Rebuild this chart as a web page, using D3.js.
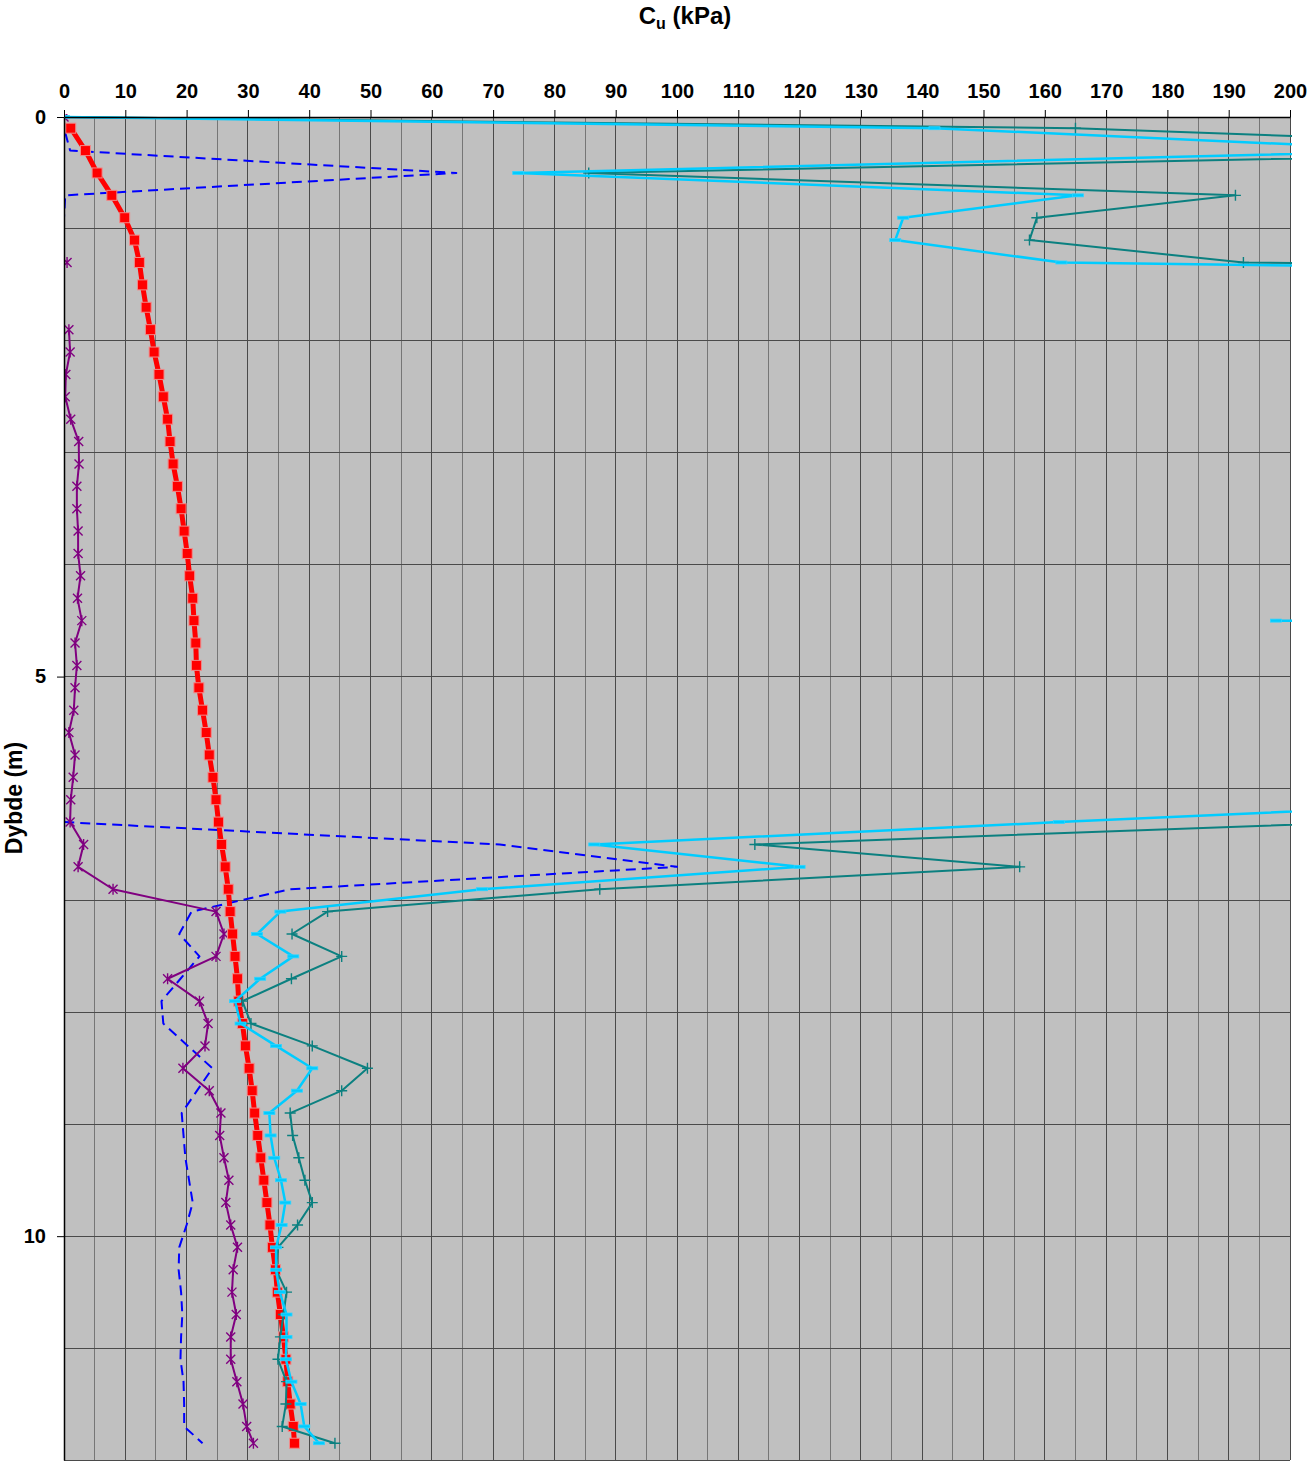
<!DOCTYPE html>
<html>
<head>
<meta charset="utf-8">
<script src="https://cdn.jsdelivr.net/npm/d3@7"></script>
<style>
  html, body { margin: 0; padding: 0; background: #ffffff; }
  svg { display: block; font-family: "Liberation Sans", Arial, sans-serif; }
</style>
</head>
<body>
<div id="chart"></div>
<script>
// ---------------- DATA ----------------
const depth = [0, 0.1, 0.3, 0.5, 0.7, 0.9, 1.1, 1.3, 1.5, 1.7, 1.9, 2.1, 2.3, 2.5, 2.7, 2.9,
  3.1, 3.3, 3.5, 3.7, 3.9, 4.1, 4.3, 4.5, 4.7, 4.9, 5.1, 5.3, 5.5, 5.7, 5.9,
  6.1, 6.3, 6.5, 6.7, 6.9, 7.1, 7.3, 7.5, 7.7, 7.9, 8.1, 8.3, 8.5, 8.7, 8.9,
  9.1, 9.3, 9.5, 9.7, 9.9, 10.1, 10.3, 10.5, 10.7, 10.9, 11.1, 11.3, 11.5, 11.7, 11.85];

const redCu = [null, 1.1, 3.5, 5.4, 7.8, 9.9, 11.5, 12.3, 12.8, 13.4, 14.1, 14.7, 15.5, 16.2, 16.9, 17.3,
  17.8, 18.5, 19.1, 19.6, 20.1, 20.5, 21.0, 21.2, 21.5, 21.6, 22.0, 22.6, 23.2, 23.7, 24.3,
  24.8, 25.2, 25.7, 26.3, 26.8, 27.1, 27.5, 27.9, 28.3, 28.5, 29.1, 29.6, 30.2, 30.7, 31.1,
  31.6, 32.1, 32.6, 33.1, 33.6, 34.0, 34.5, 34.8, 35.3, 35.8, 36.2, 36.5, 36.9, 37.4, 37.6];

const purpleCu = [0, null, null, null, null, null, null, 0.5, null, null, 0.8, 1.0, 0.3, 0.2, 1.1, 2.4,
  2.45, 2.1, 2.1, 2.3, 2.3, 2.7, 2.2, 2.9, 1.8, 2.1, 1.8, 1.6, 0.8, 1.8, 1.5,
  1.1, 1.0, 3.2, 2.3, 8.0, 24.8, 26.1, 24.8, 16.9, 22.1, 23.5, 23.0, 19.4, 23.7, 25.6,
  25.4, 26.1, 26.9, 26.4, 27.2, 28.3, 27.6, 27.4, 28.1, 27.2, 27.2, 28.2, 29.2, 29.8, 30.9];

const blueCu = [0, 0, 1.0, 64.0, 0.2, 0, 0, 0, 0, 0, 0, 0, 0, 0, 0, 0,
  0, 0, 0, 0, 0, 0, 0, 0, 0, 0, 0, 0, 0, 0, 0,
  0, 0, 71.1, 100.0, 36.9, 20.8, 18.8, 22.1, 19.0, 15.9, 16.2, 20.2, 24.2, 21.7, 19.2,
  19.5, 19.8, 20.4, 21.0, 20.0, 18.8, 18.7, 19.1, 19.3, 19.1, 19.0, 19.5, 19.6, 19.6, 22.6];

const tealCu = [0, 165, 265, 85.6, 191.1, 158.7, 157.5, 192.4, 600, null, null, null, null, null, null, null,
  null, null, null, null, null, null, null, null, null, null, null, null, null, null, null,
  null, 212, 112.7, 155.9, 87.4, 43.0, 37.2, 45.3, 37.1, 29.1, 30.5, 40.5, 49.5, 45.3, 36.9,
  37.3, 38.3, 39.3, 40.5, 38.1, 34.9, 34.6, 36.3, 35.8, 35.3, 34.9, 36.3, 36.2, 35.6, 44.2];

const cyanCu = [0, 142, 223, 74.1, 165.4, 136.9, 135.6, 162.7, 441, null, null, null, null, null, null, null,
  null, null, null, null, null, null, null, 197.7, 900, null, null, null, null, null, null,
  243, 162.3, 86.5, 120.0, 68.2, 35.3, 31.5, 37.4, 32.0, 27.9, 28.8, 34.6, 40.5, 38.0, 33.5,
  33.7, 34.3, 35.4, 36.1, 35.5, 34.6, 34.6, 35.2, 36.3, 36.3, 36.2, 37.1, 38.6, 39.2, 41.6];

const xTicks = [0, 10, 20, 30, 40, 50, 60, 70, 80, 90, 100, 110, 120, 130, 140, 150, 160, 170, 180, 190, 200];
const yTicks = [0, 5, 10];
const xTitle = "C";
const xTitleSub = "u";
const xTitleRest = " (kPa)";
const yTitle = "Dybde (m)";

// ---------------- LAYOUT ----------------
const W = 1307, H = 1465;
const L = 64, R = 1290, T = 117, B = 1460;

const svg = d3.select("#chart").append("svg").attr("width", W).attr("height", H);

const x = d3.scaleLinear().domain([0, 200]).range([L, R]);
const y = d3.scaleLinear().domain([0, 12]).range([T, B]);

// plot background
svg.append("rect").attr("x", L).attr("y", T).attr("width", R - L).attr("height", B - T).attr("fill", "#c0c0c0");

// grid
const grid = svg.append("g").attr("shape-rendering", "crispEdges");
grid.selectAll("line.v").data(d3.range(5, 201, 5)).join("line")
  .attr("x1", d => x(d)).attr("x2", d => x(d)).attr("y1", T).attr("y2", B)
  .attr("stroke", d => d % 10 === 0 ? "#4a4a4a" : "#767676").attr("stroke-width", 1);
grid.selectAll("line.h").data(d3.range(1, 13, 1)).join("line")
  .attr("x1", L).attr("x2", R).attr("y1", d => y(d)).attr("y2", d => y(d))
  .attr("stroke", "#4a4a4a").attr("stroke-width", 1);

// clip
svg.append("clipPath").attr("id", "plotclip").append("rect")
  .attr("x", L).attr("y", T - 3).attr("width", R - L + 2).attr("height", B - T + 3);

const plot = svg.append("g").attr("clip-path", "url(#plotclip)");

function toPts(vals) { return depth.map((d, i) => ({ d: d, v: vals[i] })); }

const line = d3.line().defined(p => p.v != null).x(p => x(p.v)).y(p => y(p.d));

const series = [
  { name: "blue", vals: blueCu, color: "#0000ff", width: 2, dash: "10,6", marker: null },
  { name: "purple", vals: purpleCu, color: "#800080", width: 2, dash: null, marker: "star" },
  { name: "red", vals: redCu, color: "#ff0000", width: 5, dash: null, marker: "square" },
  { name: "teal", vals: tealCu, color: "#0b8080", width: 2, dash: null, marker: "plus" },
  { name: "cyan", vals: cyanCu, color: "#00ccff", width: 2.5, dash: null, marker: "dash" }
];

series.forEach(s => {
  const pts = toPts(s.vals);
  const g = plot.append("g");
  g.append("path").datum(pts).attr("d", line).attr("fill", "none")
    .attr("stroke", s.color).attr("stroke-width", s.width)
    .attr("stroke-dasharray", s.dash).attr("stroke-linejoin", "round");
  const mp = pts.filter(p => p.v != null);
  if (s.marker === "square") {
    g.selectAll("rect").data(mp).join("rect")
      .attr("x", p => x(p.v) - 5).attr("y", p => y(p.d) - 5)
      .attr("width", 10).attr("height", 10)
      .attr("fill", "#ff0000").attr("stroke", "#f08a8a").attr("stroke-width", 1);
  } else if (s.marker === "star") {
    g.selectAll("path.m").data(mp).join("path")
      .attr("transform", p => `translate(${x(p.v)},${y(p.d)})`)
      .attr("d", "M-4.5,-4.5L4.5,4.5M-4.5,4.5L4.5,-4.5M0,-5.5L0,5.5")
      .attr("stroke", s.color).attr("stroke-width", 1.4).attr("fill", "none");
  } else if (s.marker === "plus") {
    g.selectAll("path.m").data(mp).join("path")
      .attr("transform", p => `translate(${x(p.v)},${y(p.d)})`)
      .attr("d", "M-5.5,0H5.5M0,-5.5V5.5")
      .attr("stroke", s.color).attr("stroke-width", 1.4).attr("fill", "none");
  } else if (s.marker === "dash") {
    g.selectAll("rect").data(mp).join("rect")
      .attr("x", p => x(p.v) - 5.5).attr("y", p => y(p.d) - 1.5)
      .attr("width", 11).attr("height", 3)
      .attr("fill", "#00ccff").attr("stroke", "#30d4ff").attr("stroke-width", 0.8);
  }
});

// axes
const xAxis = d3.axisTop(x).tickValues(xTicks).tickSize(7).tickSizeOuter(0).tickPadding(12).tickFormat(d3.format("d"));
const gx = svg.append("g").attr("transform", `translate(0,${T})`).call(xAxis);
gx.select(".domain").attr("stroke", "#000").attr("stroke-width", 1.5);
gx.selectAll(".tick line").attr("stroke", "#000");
gx.selectAll(".tick text").attr("font-size", 20).attr("font-weight", "bold").attr("fill", "#000")
  .attr("font-family", "Liberation Sans, Arial, sans-serif");

const yAxis = d3.axisLeft(y).tickValues(yTicks).tickSize(7).tickSizeOuter(0).tickPadding(11).tickFormat(d3.format("d"));
const gy = svg.append("g").attr("transform", `translate(${L},0)`).call(yAxis);
gy.select(".domain").attr("stroke", "#000").attr("stroke-width", 1.5);
gy.selectAll(".tick line").attr("stroke", "#000");
gy.selectAll(".tick text").attr("font-size", 20).attr("font-weight", "bold").attr("fill", "#000")
  .attr("font-family", "Liberation Sans, Arial, sans-serif");

// titles
const tt = svg.append("text").attr("x", 685).attr("y", 24).attr("text-anchor", "middle")
  .attr("font-size", 24).attr("font-weight", "bold").attr("fill", "#000");
tt.append("tspan").text(xTitle);
tt.append("tspan").attr("font-size", 16).attr("dy", 5).text(xTitleSub);
tt.append("tspan").attr("dy", -5).text(xTitleRest);

svg.append("text").attr("transform", "translate(22,798) rotate(-90)")
  .attr("text-anchor", "middle").attr("font-size", 23).attr("font-weight", "bold").attr("fill", "#000")
  .text(yTitle);
</script>
</body>
</html>
